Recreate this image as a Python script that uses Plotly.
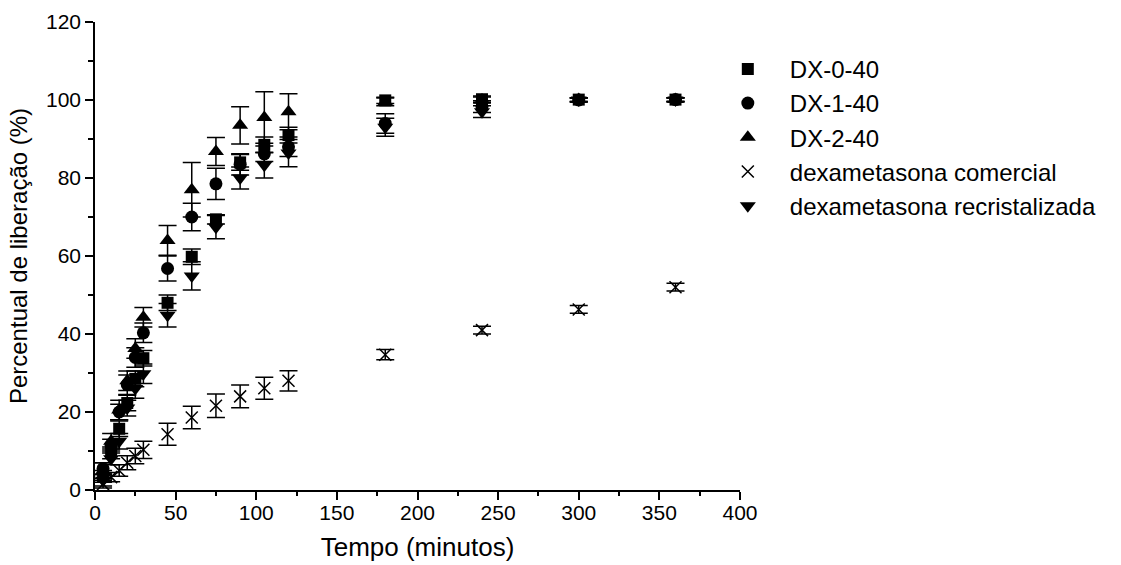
import plotly.graph_objects as go

tempo = [5, 10, 15, 20, 25, 30, 45, 60, 75, 90, 105, 120, 180, 240, 300, 360]

dx0_40 = [3.5, 9.5, 15.7, 22.3, 28.5, 33.8, 48.0, 59.8, 69.4, 84.0, 88.5, 91.0, 99.9, 100.2, 100.1, 100.1]
dx0_40_err = [1.5, 1.5, 2.0, 2.0, 2.0, 2.0, 2.0, 2.0, 1.2, 2.0, 2.0, 2.0, 0.8, 0.8, 0.5, 0.5]

dx1_40 = [5.5, 11.5, 20.0, 27.0, 34.0, 40.3, 56.8, 70.0, 78.5, 83.5, 86.2, 88.0, 94.0, 98.3, 100.0, 100.1]
dx1_40_err = [1.5, 1.5, 2.0, 2.5, 2.5, 2.5, 3.2, 3.5, 4.0, 2.7, 2.0, 2.5, 2.5, 1.5, 0.5, 0.5]

dx2_40 = [5.0, 12.5, 20.5, 28.0, 36.3, 44.3, 64.0, 77.0, 86.8, 93.5, 95.5, 97.0, 99.5, 100.0, 100.1, 100.1]
dx2_40_err = [2.0, 2.0, 2.5, 2.5, 2.5, 2.5, 3.8, 7.0, 3.6, 4.8, 6.6, 4.6, 1.0, 0.8, 0.5, 0.5]

comercial = [1.5, 3.3, 5.0, 7.0, 8.7, 10.3, 14.3, 18.6, 21.6, 24.0, 26.1, 28.0, 34.7, 41.0, 46.3, 52.0]
comercial_err = [1.0, 1.2, 1.5, 1.8, 2.0, 2.2, 2.8, 2.9, 3.0, 2.9, 2.8, 2.6, 1.3, 1.0, 1.0, 1.0]

recrist = [2.5, 8.0, 12.5, 21.0, 26.0, 29.8, 44.8, 54.9, 67.4, 80.0, 83.3, 86.4, 93.0, 97.0, 100.0, 100.0]
recrist_err = [1.5, 1.5, 2.0, 2.0, 2.5, 2.5, 3.0, 3.6, 3.0, 2.8, 3.3, 3.5, 2.3, 1.5, 0.5, 0.5]

names = ["DX-0-40", "DX-1-40", "DX-2-40", "dexametasona comercial", "dexametasona recristalizada"]

FONT = "Arial, Liberation Sans, sans-serif"

def err(e):
    return dict(type="data", array=e, visible=True, color="black", thickness=1.5, width=9)

fig = go.Figure()
fig.add_trace(go.Scatter(x=tempo, y=dx0_40, mode="markers", name=names[0],
                         marker=dict(symbol="square", size=12, color="black"), error_y=err(dx0_40_err)))
fig.add_trace(go.Scatter(x=tempo, y=dx1_40, mode="markers", name=names[1],
                         marker=dict(symbol="circle", size=13, color="black"), error_y=err(dx1_40_err)))
fig.add_trace(go.Scatter(x=tempo, y=dx2_40, mode="markers", name=names[2],
                         marker=dict(symbol="triangle-up", size=14, color="black"), error_y=err(dx2_40_err)))
fig.add_trace(go.Scatter(x=tempo, y=comercial, mode="markers", name=names[3],
                         marker=dict(symbol="x-thin", size=12, color="black", line=dict(color="black", width=1.5)),
                         error_y=err(comercial_err)))
fig.add_trace(go.Scatter(x=tempo, y=recrist, mode="markers", name=names[4],
                         marker=dict(symbol="triangle-down", size=14, color="black"), error_y=err(recrist_err)))

axis_common = dict(showline=True, linecolor="black", linewidth=1.5, showgrid=False, zeroline=False,
                   ticks="outside", ticklen=8, tickwidth=1.5, tickcolor="black", automargin=False,
                   tickfont=dict(family=FONT, size=21, color="black"), mirror=False)

fig.update_xaxes(range=[0, 400], tickmode="linear", tick0=0, dtick=50, ticklabelstandoff=-5,
                 minor=dict(ticks="outside", ticklen=4, tickwidth=1.5, tickcolor="black", dtick=25, tick0=0),
                 title=dict(text="Tempo (minutos)", font=dict(family=FONT, size=26, color="black"), standoff=15),
                 **axis_common)
fig.update_yaxes(range=[0, 120], tickmode="linear", tick0=0, dtick=20,
                 minor=dict(ticks="outside", ticklen=5, tickwidth=1.5, tickcolor="black", dtick=10, tick0=0),
                 title=dict(text="Percentual de liberação (%)", font=dict(family=FONT, size=24, color="black"), standoff=12),
                 **axis_common)

fig.update_layout(
    width=1121, height=565,
    margin=dict(l=95, r=381, t=22, b=75),
    paper_bgcolor="white", plot_bgcolor="white",
    showlegend=True,
    legend=dict(x=0.947, xanchor="left", y=0.947, yanchor="top",
                font=dict(family=FONT, size=24, color="black"),
                bgcolor="rgba(0,0,0,0)", itemwidth=74),
)

fig.write_html("out.html")
